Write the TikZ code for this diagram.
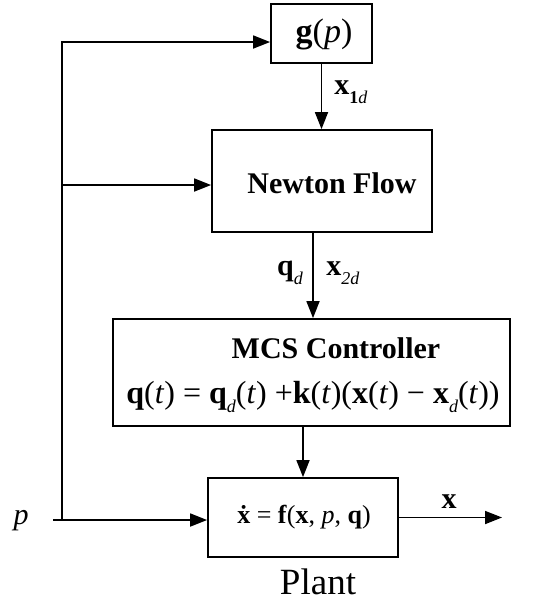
\documentclass[tikz,border=0pt]{standalone}
\usepackage{fontspec}
\setmainfont{Liberation Serif}
\usetikzlibrary{arrows.meta}
\newcommand\bv[1]{\textbf{#1}}
\newcommand\iv[1]{\textit{#1}}
\newcommand\dsub[1]{\raisebox{-0.3em}{\fontsize{18}{18}\selectfont #1}}
\begin{document}
\begin{tikzpicture}[x=1pt,y=-1pt,
  blk/.style={draw,line width=1.8pt,inner sep=0pt},
  arr/.style={line width=1.8pt,-{Triangle[length=17pt,width=13pt]}},
  txt/.style={inner sep=0pt,font=\fontsize{30}{34}\selectfont},
  bigbf/.style={inner sep=0pt,font=\fontsize{30}{34}\selectfont\bfseries}]
\useasboundingbox (0,0) rectangle (536,603);
% boxes
\node[blk,minimum width=101pt,minimum height=59pt] (g) at (321.5,33.5) {};
\node[blk,minimum width=220pt,minimum height=102pt] (newton) at (322,181) {};
\node[blk,minimum width=397pt,minimum height=107pt] (mcs) at (311.5,372.5) {};
\node[blk,minimum width=190pt,minimum height=79pt] (plant) at (303,517.5) {};
% texts
\node[txt,font=\fontsize{34}{38}\selectfont] (gt) at (324,34) {\bv{g}(\iv{p})};
\node[txt] (x1d) at (351,92) {\bv{x}\dsub{\bv{1}\iv{d}}};
\node[bigbf] (nt) at (332,183) {Newton Flow};
\node[txt] (qd) at (290,273) {\bv{q}\dsub{\iv{d}}};
\node[txt] (x2d) at (343,273) {\bv{x}\dsub{\iv{2d}}};
\node[bigbf] (mt) at (336,348) {MCS Controller};
\node[txt,font=\fontsize{32}{36}\selectfont] (mf) at (313,397) {\bv{q}(\iv{t}) = \bv{q}\dsub{\iv{d}}(\iv{t}) +\bv{k}(\iv{t})(\bv{x}(\iv{t}) − \bv{x}\dsub{\iv{d}}(\iv{t}))};
\node[txt,font=\fontsize{26}{30}\selectfont] (pe) at (304,517) {\bv{ẋ} = \bv{f}(\bv{x}, \iv{p}, \bv{q})};
\node[inner sep=0pt,font=\fontsize{37}{40}\selectfont] (pl) at (318,582) {Plant};
\node[txt] (xo) at (449,502) {\bv{x}};
\node[txt] (p) at (21,521) {\iv{p}};
% connectors
\coordinate (pin) at (53,520);
\coordinate (jb) at (62,520);
\coordinate (jt) at (62,42);
\coordinate (jm) at (62,185);
\coordinate (out) at (502,517.5);
\draw[arr] (pin) -- (plant.west|-pin);
\draw[arr] (jb) -- (jt) -- (g.west|-jt);
\draw[arr] (jm) -- (newton.west|-jm);
\draw[arr] (g.south) -- (g.south|-newton.north);
\draw[arr] ([xshift=-9pt]newton.south) -- ([xshift=-9pt]newton.south|-mcs.north);
\draw[arr] (plant.north|-mcs.south) -- (plant.north);
\draw[arr] (plant.east) -- (out);
\end{tikzpicture}
\end{document}
